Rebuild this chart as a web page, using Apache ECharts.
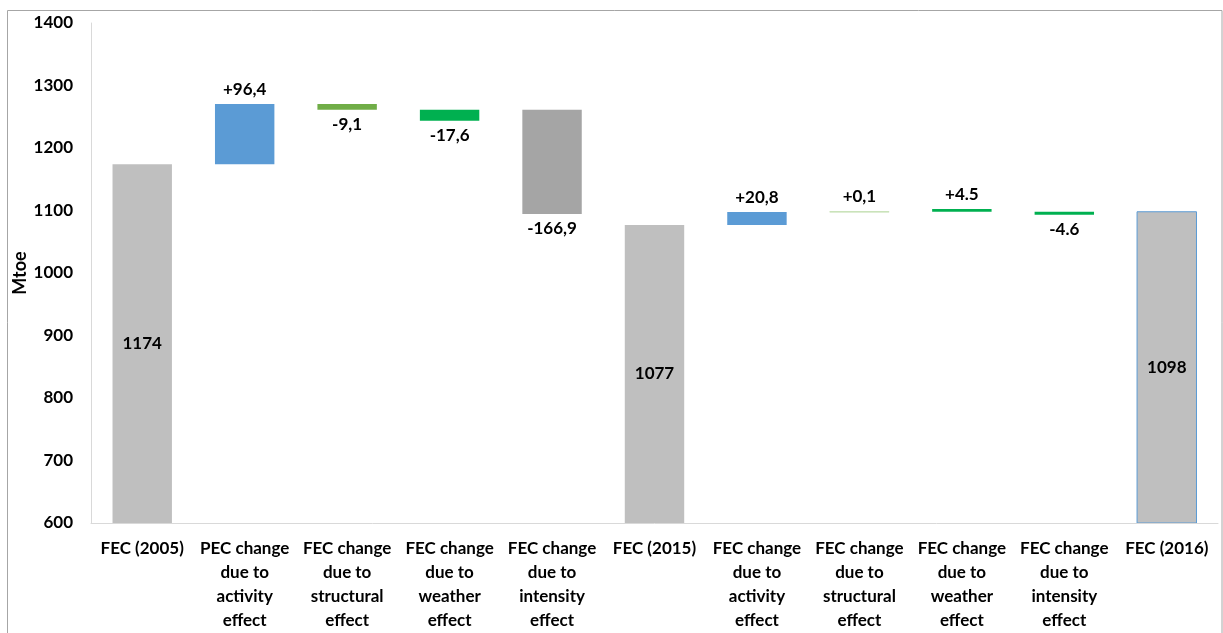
<!DOCTYPE html>
<html>
<head>
<meta charset="utf-8">
<script src="https://cdn.jsdelivr.net/npm/echarts@6/dist/echarts.min.js"></script>
<style>
  html, body { margin: 0; padding: 0; background: #fff; }
  #chart { width: 1223px; height: 633px; }
</style>
</head>
<body>
<div id="chart"></div>
<script>
// Decomposition of final energy consumption (Mtoe), 2005 -> 2015 -> 2016
const categories = [
  'FEC (2005)',
  'PEC change\ndue to\nactivity\neffect',
  'FEC change\ndue to\nstructural\neffect',
  'FEC change\ndue to\nweather\neffect',
  'FEC change\ndue to\nintensity\neffect',
  'FEC (2015)',
  'FEC change\ndue to\nactivity\neffect',
  'FEC change\ndue to\nstructural\neffect',
  'FEC change\ndue to\nweather\neffect',
  'FEC change\ndue to\nintensity\neffect',
  'FEC (2016)'
];

// Totals (full bars); null where the column is a change
const totals = [1174, null, null, null, null, 1077, null, null, null, null, 1098];

// Changes and the level each floating bar starts from
const changes = [null, 96.4, -9.1, -17.6, -166.9, null, 20.8, 0.1, 4.5, -4.6, null];
const changeStart = [null, 1174, 1270.4, 1261.3, 1261.3, null, 1077, 1097.8, 1097.9, 1098, null];

// Decimal mark used in each change label
const decimalMark = [null, ',', ',', ',', ',', null, ',', ',', '.', '.', null];

const yTicks = { min: 600, max: 1400, interval: 100 };

// Fill colours per column
const barColors = ['#BFBFBF', '#5B9BD5', '#70AD47', '#00B050', '#A5A5A5', '#BFBFBF',
                   '#5B9BD5', '#C5E0B4', '#00B050', '#00B050', '#BFBFBF'];
const barBorders = [null, null, null, null, null, null, null, '#C5E0B4', null, null, '#5B9BD5'];

const FONT = 'Lato, "Open Sans", sans-serif';

const seriesData = categories.map((c, i) => {
  if (totals[i] != null) return [i, 0, totals[i]];
  const a = changeStart[i], b = changeStart[i] + changes[i];
  return [i, Math.min(a, b), Math.max(a, b)];
});

function labelText(i) {
  if (totals[i] != null) return String(totals[i]);
  const v = changes[i];
  return (v > 0 ? '+' : '') + v.toFixed(1).replace('.', decimalMark[i]);
}

const chart = echarts.init(document.getElementById('chart'), null, { renderer: 'canvas' });

chart.setOption({
  animation: false,
  backgroundColor: '#ffffff',
  graphic: [{
    type: 'rect',
    silent: true,
    z: -10,
    shape: { x: 7.5, y: 10.5, width: 1214.5, height: 700 },
    style: { fill: 'none', stroke: '#A6A6A6', lineWidth: 1 }
  }],
  grid: { left: 91, right: 5, top: 23, bottom: 110 },
  xAxis: {
    type: 'category',
    data: categories,
    axisLine: { show: true, lineStyle: { color: '#D9D9D9', width: 1 } },
    axisTick: { show: false },
    axisLabel: {
      interval: 0,
      margin: 14,
      color: '#000',
      fontFamily: FONT,
      fontWeight: 'bold',
      fontSize: 17,
      lineHeight: 24,
      align: 'center'
    }
  },
  yAxis: {
    type: 'value',
    min: yTicks.min,
    max: yTicks.max,
    interval: yTicks.interval,
    name: 'Mtoe',
    nameLocation: 'middle',
    nameRotate: 90,
    nameGap: 62,
    nameMoveOverlap: false,
    nameTextStyle: { color: '#000', fontFamily: FONT, fontWeight: 'bold', fontSize: 18 },
    axisLine: { show: true, lineStyle: { color: '#D9D9D9', width: 1 } },
    axisTick: { show: false },
    splitLine: { show: false },
    axisLabel: {
      margin: 18,
      color: '#000',
      fontFamily: FONT,
      fontWeight: 'bold',
      fontSize: 17,
      formatter: v => String(v)
    }
  },
  series: [{
    type: 'custom',
    data: seriesData,
    encode: { x: 0, y: [1, 2] },
    clip: true,
    renderItem: function (params, api) {
      const i = api.value(0);
      const lo = api.value(1);
      const hi = api.value(2);
      const top = api.coord([i, hi]);
      const bot = api.coord([i, lo]);
      const w = api.size([1, 0])[0] * 0.58;
      const cs = params.coordSys;
      const shape = echarts.graphic.clipRectByRect(
        { x: top[0] - w / 2, y: top[1], width: w, height: bot[1] - top[1] },
        { x: cs.x, y: cs.y, width: cs.width, height: cs.height }
      );
      const idx = params.dataIndex;
      let position = 'inside';
      if (totals[idx] == null) position = changes[idx] > 0 ? 'top' : 'bottom';
      const border = barBorders[idx];
      return {
        type: 'rect',
        shape: shape,
        style: {
          fill: barColors[idx],
          stroke: border || null,
          lineWidth: border ? 1 : 0
        },
        textContent: {
          style: {
            text: labelText(idx),
            fill: '#000',
            fontFamily: FONT,
            fontWeight: 'bold',
            fontSize: 17
          }
        },
        textConfig: { position: position, distance: 6 }
      };
    }
  }]
});
</script>
</body>
</html>
